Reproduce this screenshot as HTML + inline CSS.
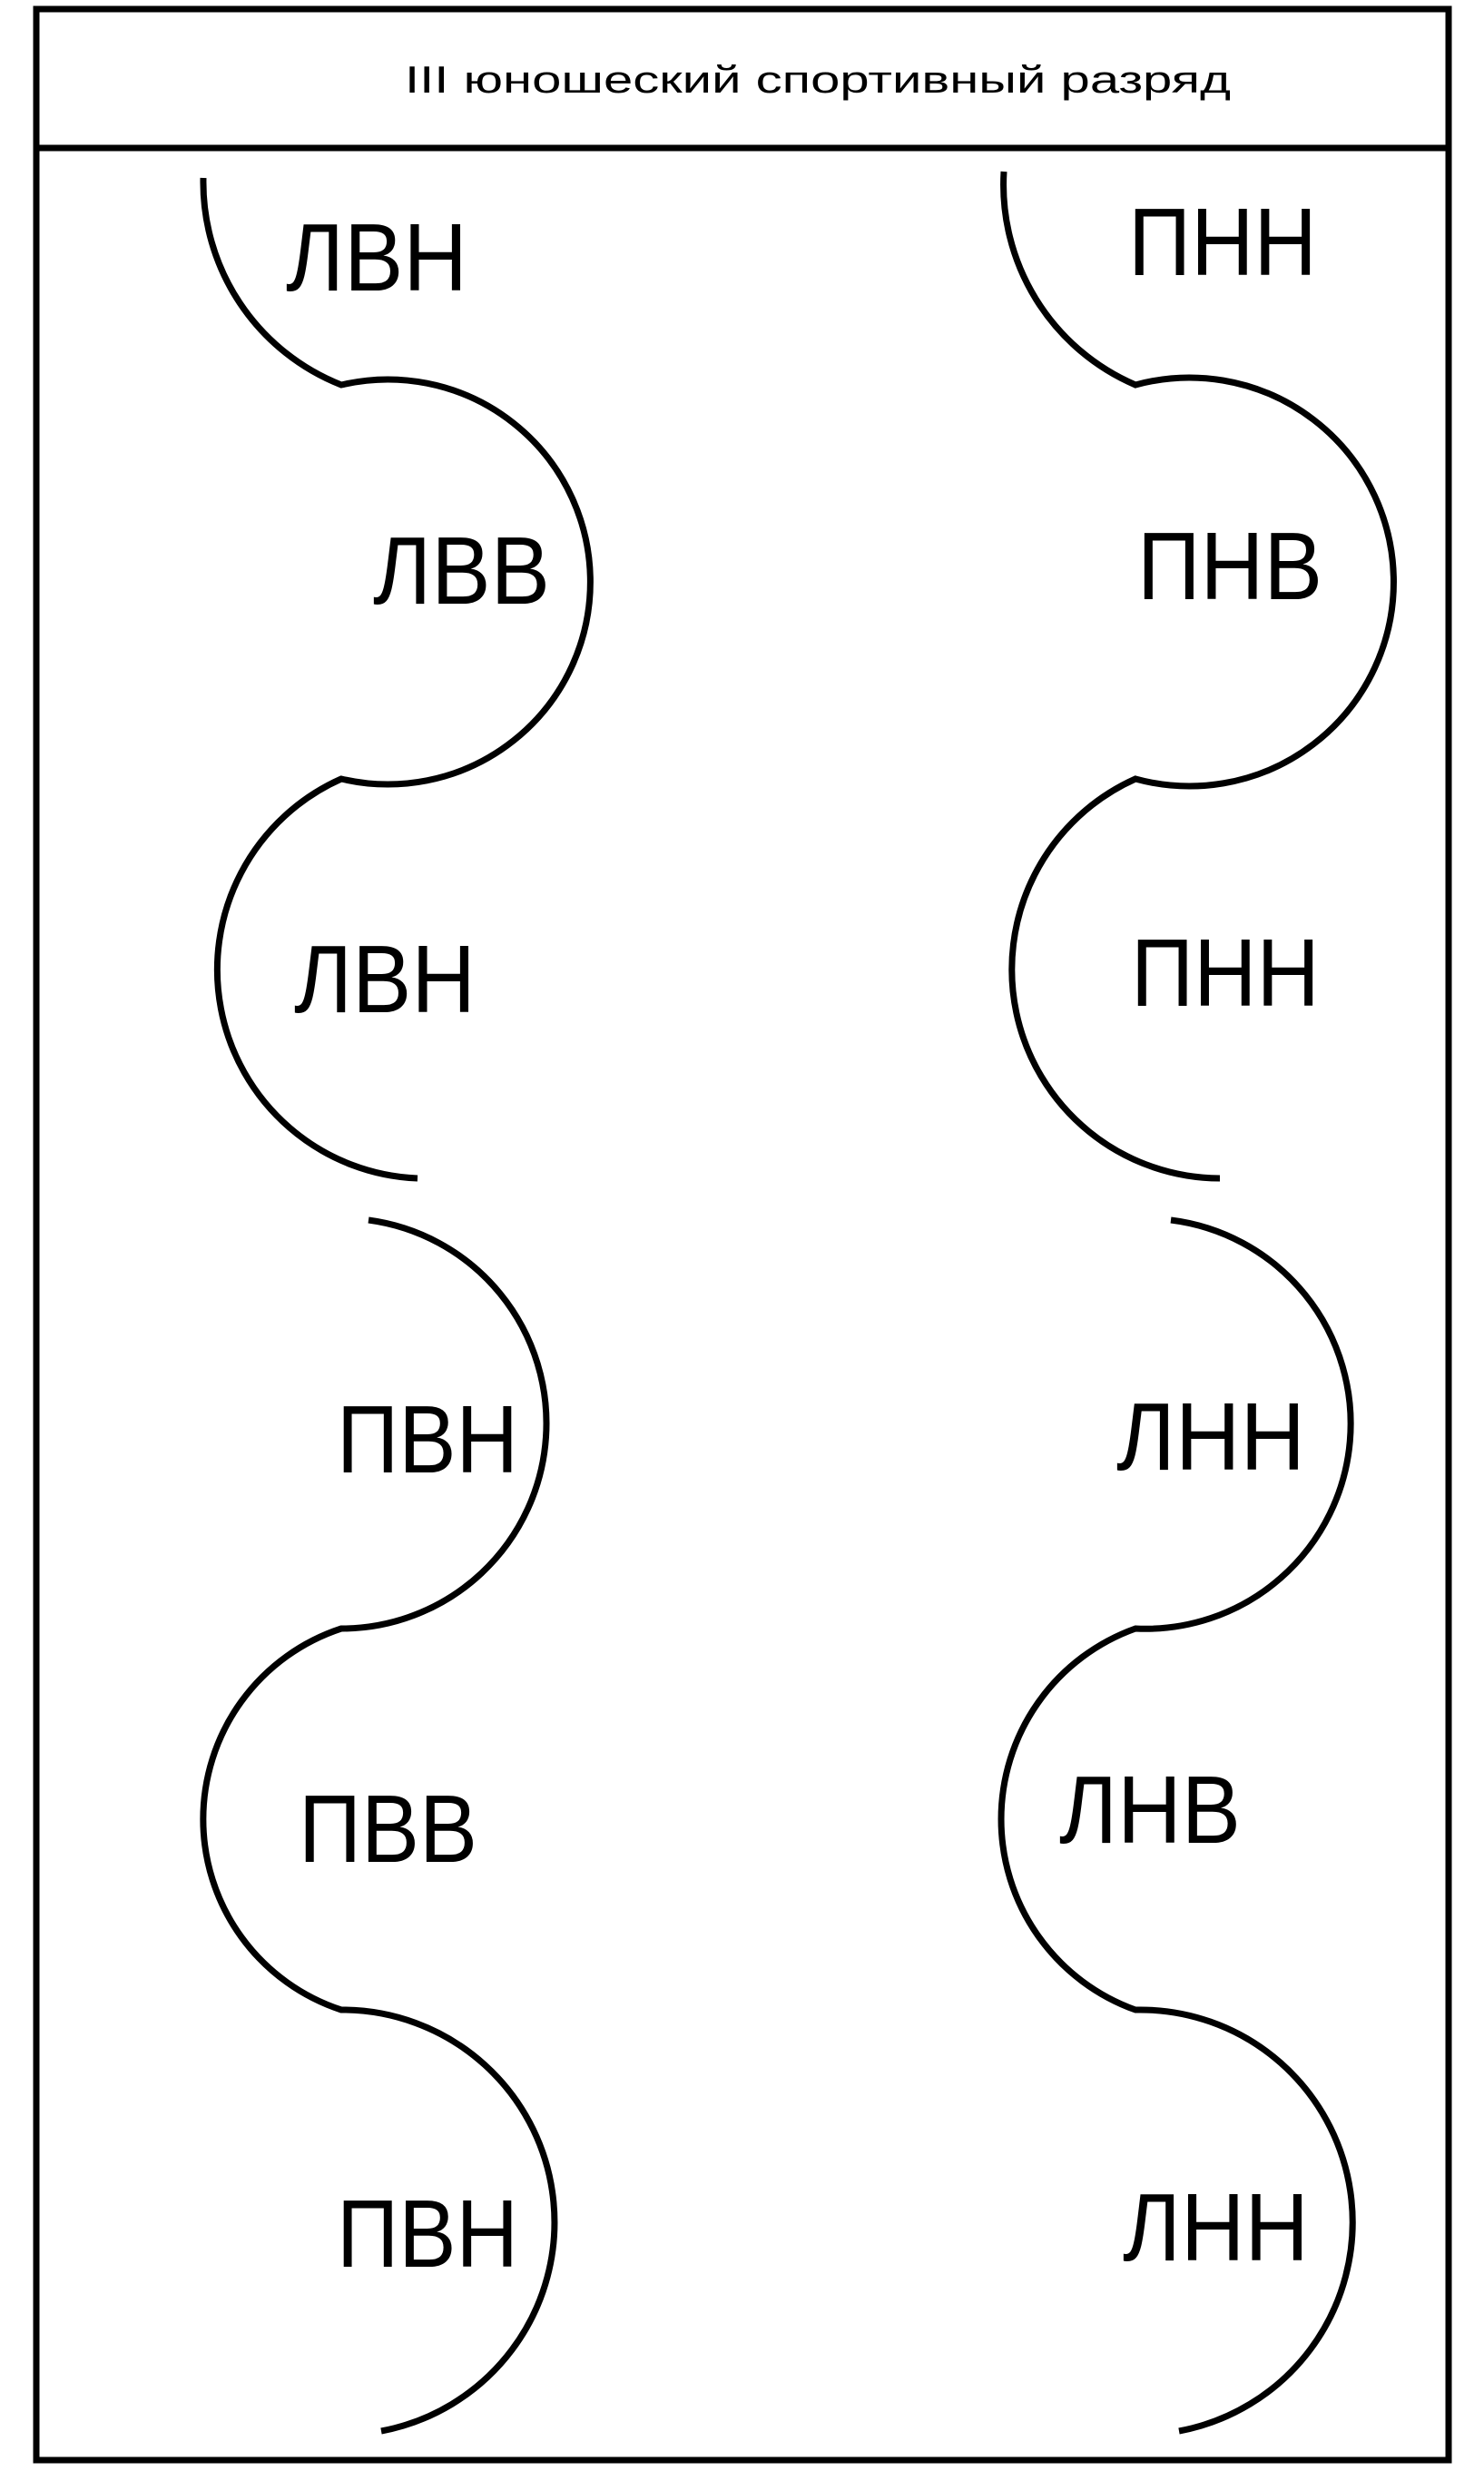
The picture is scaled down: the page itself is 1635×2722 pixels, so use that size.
<!DOCTYPE html>
<html><head><meta charset="utf-8"><style>html,body{margin:0;padding:0;background:#fff}svg{display:block}</style></head>
<body>
<svg width="1635" height="2722" viewBox="0 0 1635 2722" xmlns="http://www.w3.org/2000/svg">
<rect x="40" y="10" width="1556" height="2700" fill="none" stroke="#000" stroke-width="7"/>
<line x1="40" y1="163" x2="1596" y2="163" stroke="#000" stroke-width="7"/>
<text x="446" y="102" font-family="Liberation Sans, sans-serif" font-size="42" textLength="910" lengthAdjust="spacingAndGlyphs">III  юношеский спортивный разряд</text>
<g fill="none" stroke="#000" stroke-width="7">
<path d="M224,196 A240,240 0 0 0 376,424 A223,223 0 1 1 376,858 A230,230 0 0 0 460,1298"/>
<path d="M406,1344 A226,226 0 0 1 376,1794 A221,221 0 0 0 376,2214 A234,234 0 0 1 420,2678"/>
<path d="M1106,189 A240,240 0 0 0 1251,424 A225,225 0 1 1 1251,858 A230,230 0 0 0 1344,1298"/>
<path d="M1290,1344 A226,226 0 0 1 1251,1794 A223,223 0 0 0 1251,2214 A234,234 0 0 1 1299,2678"/>
</g>
<g font-family="Liberation Sans, sans-serif" font-size="106" fill="#000">
<text x="315" y="320" textLength="200" lengthAdjust="spacingAndGlyphs">ЛВН</text>
<text x="411" y="665" textLength="195" lengthAdjust="spacingAndGlyphs">ЛВВ</text>
<text x="324" y="1115" textLength="200" lengthAdjust="spacingAndGlyphs">ЛВН</text>
<text x="371" y="1622" textLength="200" lengthAdjust="spacingAndGlyphs">ПВН</text>
<text x="329" y="2051" textLength="197" lengthAdjust="spacingAndGlyphs">ПВВ</text>
<text x="371" y="2497" textLength="200" lengthAdjust="spacingAndGlyphs">ПВН</text>
<text x="1243" y="303" textLength="208" lengthAdjust="spacingAndGlyphs">ПНН</text>
<text x="1253" y="660" textLength="204" lengthAdjust="spacingAndGlyphs">ПНВ</text>
<text x="1246" y="1108" textLength="208" lengthAdjust="spacingAndGlyphs">ПНН</text>
<text x="1230" y="1619" textLength="208" lengthAdjust="spacingAndGlyphs">ЛНН</text>
<text x="1167" y="2030" textLength="200" lengthAdjust="spacingAndGlyphs">ЛНВ</text>
<text x="1237" y="2490" textLength="205" lengthAdjust="spacingAndGlyphs">ЛНН</text>
</g>
</svg>
</body></html>
